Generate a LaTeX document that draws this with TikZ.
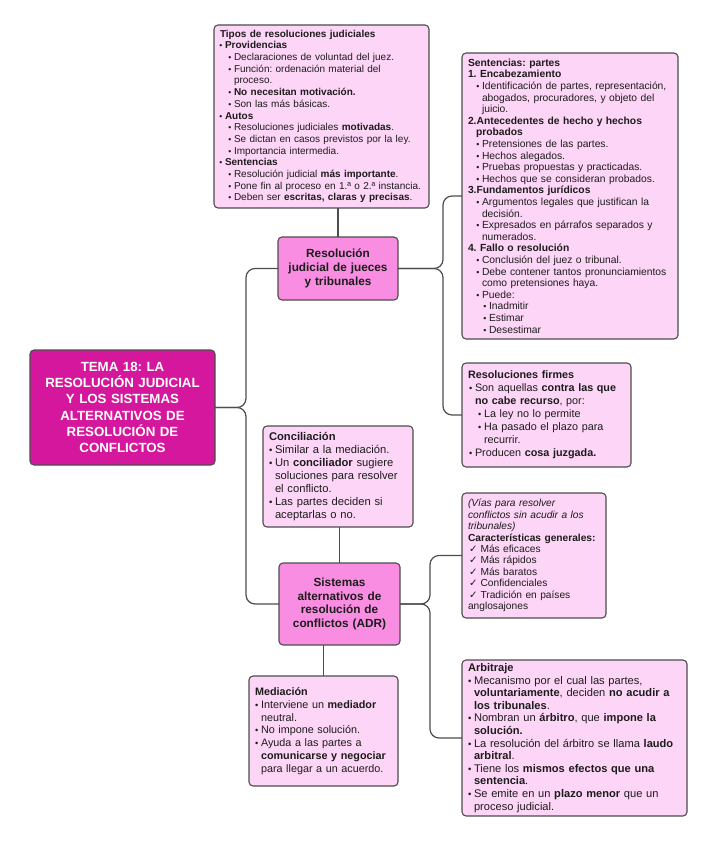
\documentclass[tikz,border=0pt]{standalone}
\usepackage{fontspec}
\setmainfont{Liberation Sans}
\newfontfamily\symf{DejaVu Sans}
\usepackage{tikz}

\definecolor{linegray}{HTML}{4D4D4D}
\definecolor{notepink}{HTML}{FDD5F6}
\definecolor{topicpink}{HTML}{F98DE1}
\definecolor{mainpink}{HTML}{D5179E}
\definecolor{textdark}{HTML}{1C1C1C}

\frenchspacing
\newcommand{\itm}[1]{\hspace*{#1}\llap{\scalebox{0.85}{\textbullet}\hspace{2.6pt}}}
\newcommand{\cnt}[1]{\hspace*{#1}}
\newcommand{\chk}{\hspace*{1pt}{\symf\bfseries ✓}\hspace{3pt}}

\tikzset{
  note/.style={draw=linegray,fill=notepink,rounded corners=4pt,line width=1.1pt,
    anchor=north west,align=left,inner xsep=6pt,inner ysep=0pt,outer sep=0pt,text=textdark},
  topic/.style={draw=linegray,fill=topicpink,rounded corners=4pt,line width=1.1pt,
    anchor=north west,align=center,inner sep=0pt,outer sep=0pt,text=textdark,
    font=\bfseries\fontsize{11.8}{13.8}\selectfont},
  link/.style={draw=linegray,line width=1.2pt,rounded corners=9pt},
}

\begin{document}
\begin{tikzpicture}[x=1pt,y=-1pt]
  \useasboundingbox (0,0) rectangle (726,848);

  % main topic
  \node[topic,fill=mainpink,text=white,minimum width=185pt,text width=185pt,minimum height=115pt,
    font=\bfseries\fontsize{13.3}{16.3}\selectfont] (tema) at (30,350)
    {TEMA 18: LA\\RESOLUCIÓN JUDICIAL\\Y LOS SISTEMAS\\ALTERNATIVOS DE\\RESOLUCIÓN DE\\CONFLICTOS};

  % branch 1
  \node[topic,minimum width=120pt,text width=120pt,minimum height=63pt] (resol) at (278,237)
    {Resolución\\judicial de jueces\\y tribunales};

  \node[note,minimum width=215pt,text width=203pt,minimum height=183pt,
    font=\fontsize{10}{11.7}\selectfont] (tipos) at (214,25)
    {\textbf{Tipos de resoluciones judiciales}\\
     \itm{5pt}\textbf{Providencias}\\
     \itm{14pt}Declaraciones de voluntad del juez.\\
     \itm{14pt}Función: ordenación material del\\
     \cnt{14pt}proceso.\\
     \itm{14pt}\textbf{No necesitan motivación.}\\
     \itm{14pt}Son las más básicas.\\
     \itm{5pt}\textbf{Autos}\\
     \itm{14pt}Resoluciones judiciales \textbf{motivadas}.\\
     \itm{14pt}Se dictan en casos previstos por la ley.\\
     \itm{14pt}Importancia intermedia.\\
     \itm{5pt}\textbf{Sentencias}\\
     \itm{14pt}Resolución judicial \textbf{más importante}.\\
     \itm{14pt}Pone fin al proceso en 1.ª o 2.ª instancia.\\
     \itm{14pt}Deben ser \textbf{escritas, claras y precisas}.};

  \node[note,minimum width=216pt,text width=204pt,minimum height=286pt,
    font=\fontsize{10.3}{11.6}\selectfont] (sent) at (462,53)
    {\textbf{Sentencias: partes}\\
     \textbf{1. Encabezamiento}\\
     \itm{14pt}Identificación de partes, representación,\\
     \cnt{14pt}abogados, procuradores, y objeto del\\
     \cnt{14pt}juicio.\\
     \textbf{2.Antecedentes de hecho y hechos}\\
     \cnt{8pt}\textbf{probados}\\
     \itm{14pt}Pretensiones de las partes.\\
     \itm{14pt}Hechos alegados.\\
     \itm{14pt}Pruebas propuestas y practicadas.\\
     \itm{14pt}Hechos que se consideran probados.\\
     \textbf{3.Fundamentos jurídicos}\\
     \itm{14pt}Argumentos legales que justifican la\\
     \cnt{14pt}decisión.\\
     \itm{14pt}Expresados en párrafos separados y\\
     \cnt{14pt}numerados.\\
     \textbf{4. Fallo o resolución}\\
     \itm{14pt}Conclusión del juez o tribunal.\\
     \itm{14pt}Debe contener tantos pronunciamientos\\
     \cnt{14pt}como pretensiones haya.\\
     \itm{14pt}Puede:\\
     \itm{21pt}Inadmitir\\
     \itm{21pt}Estimar\\
     \itm{21pt}Desestimar};

  \node[note,minimum width=169pt,text width=157pt,minimum height=104pt,
    font=\fontsize{10.8}{13}\selectfont] (firmes) at (462,363)
    {\textbf{Resoluciones firmes}\\
     \itm{7pt}Son aquellas \textbf{contra las que}\\
     \cnt{7pt}\textbf{no cabe recurso}, por:\\
     \itm{16pt}La ley no lo permite\\
     \itm{16pt}Ha pasado el plazo para\\
     \cnt{16pt}recurrir.\\
     \itm{7pt}Producen \textbf{cosa juzgada.}};

  % branch 2
  \node[topic,minimum width=121pt,text width=121pt,minimum height=82pt] (adr) at (279,563)
    {Sistemas\\alternativos de\\resolución de\\conflictos (ADR)};

  \node[note,minimum width=150pt,text width=138pt,minimum height=101pt,
    font=\fontsize{11.2}{13}\selectfont] (concil) at (263,426)
    {\textbf{Conciliación}\\
     \itm{6pt}Similar a la mediación.\\
     \itm{6pt}Un \textbf{conciliador} sugiere\\
     \cnt{6pt}soluciones para resolver\\
     \cnt{6pt}el conflicto.\\
     \itm{6pt}Las partes deciden si\\
     \cnt{6pt}aceptarlas o no.};

  \node[note,minimum width=144pt,text width=132pt,minimum height=125pt,
    font=\fontsize{10.2}{11.4}\selectfont] (caract) at (462,493)
    {\textit{(Vías para resolver}\\
     \textit{conflictos sin acudir a los}\\
     \textit{tribunales)}\\
     \textbf{Características generales:}\\
     \chk Más eficaces\\
     \chk Más rápidos\\
     \chk Más baratos\\
     \chk Confidenciales\\
     \chk Tradición en países\\
     anglosajones};

  \node[note,minimum width=149pt,text width=137pt,minimum height=110pt,
    font=\fontsize{10.8}{12.8}\selectfont] (medi) at (249,676)
    {\textbf{Mediación}\\
     \itm{6pt}Interviene un \textbf{mediador}\\
     \cnt{6pt}neutral.\\
     \itm{6pt}No impone solución.\\
     \itm{6pt}Ayuda a las partes a\\
     \cnt{6pt}\textbf{comunicarse y negociar}\\
     \cnt{6pt}para llegar a un acuerdo.};

  \node[note,minimum width=225pt,text width=213pt,minimum height=156pt,
    font=\fontsize{11.1}{12.6}\selectfont] (arbit) at (462,660)
    {\textbf{Arbitraje}\\
     \itm{6pt}Mecanismo por el cual las partes,\\
     \cnt{6pt}\textbf{voluntariamente}, deciden \textbf{no acudir a}\\
     \cnt{6pt}\textbf{los tribunales}.\\
     \itm{6pt}Nombran un \textbf{árbitro}, que \textbf{impone la}\\
     \cnt{6pt}\textbf{solución.}\\
     \itm{6pt}La resolución del árbitro se llama \textbf{laudo}\\
     \cnt{6pt}\textbf{arbitral}.\\
     \itm{6pt}Tiene los \textbf{mismos efectos que una}\\
     \cnt{6pt}\textbf{sentencia}.\\
     \itm{6pt}Se emite en un \textbf{plazo menor} que un\\
     \cnt{6pt}proceso judicial.};

  % trunks
  \coordinate (trunkL) at (246,0);
  \coordinate (trunkR) at (443,0);
  \coordinate (trunkA) at (430,0);

  % connectors
  \draw[link] (tema.east) -- (tema.east -| trunkL) |- (resol.west);
  \draw[link] (tema.east) -- (tema.east -| trunkL) |- (adr.west);
  \draw[link] (resol.north) -- (resol.north |- tipos.south);
  \draw[link] (resol.east) -- (resol.east -| trunkR) |- (sent.west);
  \draw[link] (resol.east) -- (resol.east -| trunkR) |- (firmes.west);
  \draw[link] (adr.north) -- (adr.north |- concil.south);
  \draw[link] (medi.north |- adr.south) -- (medi.north);
  \draw[link] (adr.east) -- (adr.east -| trunkA) |- (caract.west);
  \draw[link] (adr.east) -- (adr.east -| trunkA) |- (arbit.west);
\end{tikzpicture}
\end{document}
